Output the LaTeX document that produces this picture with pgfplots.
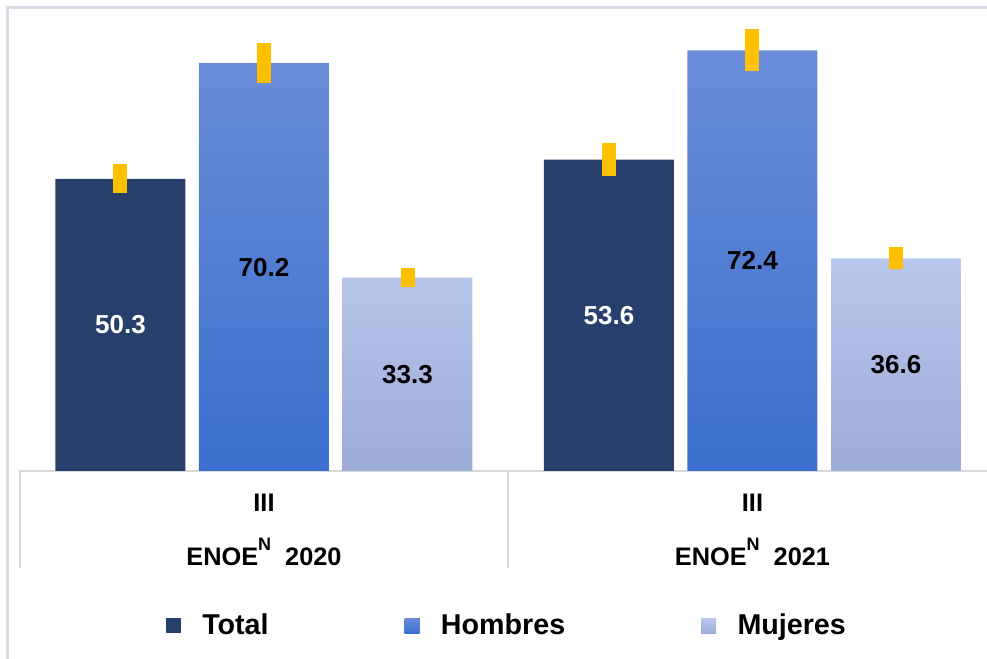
\documentclass[border=0pt]{standalone}
\usepackage{fontspec}
\setmainfont{Liberation Sans}
\usepackage{pgfplots}
\pgfplotsset{compat=1.18}

\definecolor{totalc}{HTML}{283F6C}
\definecolor{homtop}{HTML}{6B8DD8}
\definecolor{hombot}{HTML}{3A6FCD}
\definecolor{mujtop}{HTML}{BAC7EE}
\definecolor{mujbot}{HTML}{9CABD6}
\definecolor{errc}{HTML}{FFC000}
\definecolor{sepc}{HTML}{D9D9D9}
\definecolor{framec}{HTML}{D6DCE5}

% 1px of the reference = 0.75pt
\pgfplotsset{
  sq legend/.style={legend image code/.code={
    \fill[##1] (0pt,-5.6pt) rectangle (11.25pt,5.6pt);}},
}

\begin{document}
\begin{tikzpicture}
\begin{axis}[
  x=366.375pt, y=4.3575pt,
  xmin=-0.5, xmax=1.5, ymin=-32, ymax=81,
  hide axis, clip=false,
  bar width=0.2661,
  error bars/y dir=both, error bars/y explicit,
  error bars/error mark=none,
  error bars/error bar style={line width=10.5pt, color=errc},
  visualization depends on={y \as \rawy},
  nodes near coords={\pgfmathprintnumber[fixed,fixed zerofill,precision=1,assume math mode=true]{\pgfplotspointmeta}},
  every node near coord/.append style={anchor=center, yshift=-\rawy*2.17875pt,
    font=\bfseries\fontsize{19.5}{20}\selectfont},
  legend columns=3,
  legend style={at={(axis cs:0.498,-26.6)}, anchor=center, draw=none, fill=none,
    font=\bfseries\fontsize{21.5}{22}\selectfont,
    /tikz/every odd column/.append style={column sep=14pt},
    /tikz/every even column/.append style={column sep=100pt},
    cells={anchor=west}},
]
% category box
\draw[sepc, line width=1.5pt] (axis cs:-0.5,-16.7) -- (axis cs:-0.5,0) -- (axis cs:1.6,0);
\draw[sepc, line width=1.5pt] (axis cs:0.5,0) -- (axis cs:0.5,-16.7);
% outer frame
\draw[framec, line width=2.25pt] (axis cs:-0.5241,-40) -- (axis cs:-0.5241,79.86) -- (axis cs:1.6,79.86);

% bars sit at group index -0.2938 / 0 / +0.2938
\addplot[ybar, bar shift=0, fill=totalc, draw=none, sq legend,
  nodes near coords style={text=white}]
  coordinates {(-0.2938,50.3) +- (0,2.5) (0.7062,53.6) +- (0,2.8)};
\addplot[ybar, bar shift=0, top color=homtop, bottom color=hombot, draw=none, sq legend,
  nodes near coords style={text=black}]
  coordinates {(0,70.2) +- (0,3.5) (1,72.4) +- (0,3.6)};
\addplot[ybar, bar shift=0, top color=mujtop, bottom color=mujbot, draw=none, sq legend,
  nodes near coords style={text=black}]
  coordinates {(0.2938,33.3) +- (0,1.6) (1.2938,36.6) +- (0,1.9)};
\legend{Total, Hombres, Mujeres}

\begin{scope}[font=\bfseries\fontsize{19}{20}\selectfont]
\node at (axis cs:0,-5.5) {III};
\node at (axis cs:0,-13.9) {ENOE\raisebox{0.6em}{\fontsize{13.5}{14}\selectfont N}\ \ 2020};
\node at (axis cs:1,-5.5) {III};
\node at (axis cs:1,-13.9) {ENOE\raisebox{0.6em}{\fontsize{13.5}{14}\selectfont N}\ \ 2021};
\end{scope}

\coordinate (bbTL) at (axis cs:-0.5404,81.07);
\coordinate (bbBR) at (axis cs:1.4801,-32.19);
\end{axis}
\pgfresetboundingbox
\useasboundingbox (bbTL) rectangle (bbBR);
\end{tikzpicture}
\end{document}
